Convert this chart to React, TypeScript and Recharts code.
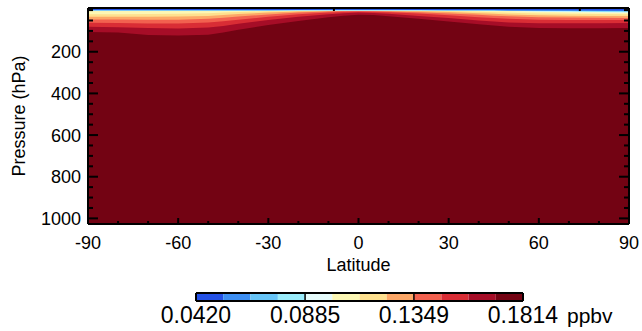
import { ComposedChart, Area, Bar, XAxis, YAxis, CartesianGrid } from "recharts";

const FONT = '"Liberation Sans", Arial, Helvetica, sans-serif';

const latitudes = [-90, -80, -70, -60, -50, -45, -40, -30, -20, -10, -5, 0, 5, 10, 20, 30, 40, 45, 50, 60, 70, 80, 90];

// pressure (hPa) where the field crosses each colour level
const p0536 = [0, 0, 0, 0, 0, 0, 0, 0, -1, -2, -2, -2, -2, -2, -1, 0, 0, 0, 0.5, 1, 1, 1.5, 2];
const p0652 = [1, 1, 1, 1, 1, 1, 1, 1, 0, -1, -1, -1, -1, -1, 0, 1, 1, 1, 1.5, 2.5, 3, 3.5, 4];
const p0769 = [2, 2, 2, 2, 2, 2, 2, 2, 1, 0.5, 0.5, 0.5, 0.5, 0.5, 1, 2, 2, 2, 2.5, 4, 5, 6, 7];
const p0885 = [2.5, 2.5, 2.5, 2.5, 2.5, 2.5, 2.5, 2.5, 2, 1.5, 1.5, 1.5, 1.5, 1.5, 2, 2.5, 2.5, 3, 3.5, 6, 7, 9, 10];
const p1001 = [4, 4, 3.5, 3.5, 3, 3, 3, 3, 2.5, 2.5, 2.5, 2.5, 2.5, 2.5, 2.5, 3, 3, 4, 5, 8, 10, 12, 13];
const p1117 = [20, 20, 19, 18, 15, 12, 9, 6, 4, 3, 3, 3, 3, 3, 4, 5, 8, 11, 13, 16, 18, 19, 20];
const p1233 = [32, 32, 32, 31, 28, 24, 19, 12, 7, 4, 3.5, 3.5, 3.5, 4, 6, 9, 15, 18, 21, 25, 27, 28, 29];
const p1349 = [45, 45, 46, 46, 42, 37, 31, 21, 12, 7, 5, 5, 5, 7, 10, 16, 23, 27, 30, 34, 36, 37, 38];
const p1466 = [61, 62, 64, 64, 60, 54, 46, 32, 20, 12, 9, 8, 9, 11, 17, 25, 34, 38, 42, 46, 48, 48, 48];
const p1582 = [80, 82, 86, 88, 84, 76, 66, 48, 32, 20, 15, 12, 14, 18, 28, 38, 50, 55, 60, 63, 63, 63, 62];
const p1698 = [105, 108, 120, 122, 118, 108, 95, 72, 52, 35, 27, 22, 24, 30, 42, 55, 68, 74, 80, 86, 87, 87, 86];

const crossings = [p0536, p0652, p0769, p0885, p1001, p1117, p1233, p1349, p1466, p1582, p1698];

const levels = [0.042, 0.0536, 0.0652, 0.0769, 0.0885, 0.1001, 0.1117, 0.1233, 0.1349, 0.1466, 0.1582, 0.1698, 0.1814];
const levelTicks = [0.042, 0.0885, 0.1349, 0.1814];
const levelLabels = ["0.0420", "0.0885", "0.1349", "0.1814"];

const bandColors = [
  "#2451e6", "#3c8ef2", "#66c4f7", "#9aecfb", "#e6fbfb", "#fcf7b4",
  "#fee08e", "#fca767", "#f2614f", "#d92d35", "#a60d27", "#730313",
];

const latTicks = [-90, -80, -70, -60, -50, -40, -30, -20, -10, 0, 10, 20, 30, 40, 50, 60, 70, 80, 90];
const latLabels = [-90, -60, -30, 0, 30, 60, 90];
const pressureTicks = [0, 50, 100, 150, 200, 250, 300, 350, 400, 450, 500, 550, 600, 650, 700, 750, 800, 850, 900, 950, 1000];
const pressureLabels = [200, 400, 600, 800, 1000];

const Y_MIN = -10;
const Y_MAX = 1027;

const rows = latitudes.map((lat, i) => {
  const r: Record<string, number> = { lat };
  crossings.forEach((arr, k) => (r[`c${k}`] = arr[i]));
  return r;
});

const barRow = [
  levels.slice(1).reduce(
    (o: Record<string, any>, v, i) => ({ ...o, [`b${i}`]: v - levels[i] }),
    { name: "ppbv", offset: levels[0] }
  ),
];

const frame = { stroke: "#000", strokeWidth: 2 };

function BottomTick(props: any) {
  const { x, y, payload } = props;
  const major = latLabels.includes(payload.value);
  return (
    <g>
      <line x1={x} x2={x} y1={y} y2={y - (major ? 6 : 3)} stroke="#000" strokeWidth={2} />
      {major && (
        <text x={x} y={y + 25} textAnchor="middle" fontSize={18} fontFamily={FONT} fill="#000">
          {payload.value}
        </text>
      )}
    </g>
  );
}

function TopTick(props: any) {
  const { x, y, payload } = props;
  const major = latLabels.includes(payload.value);
  return <line x1={x} x2={x} y1={y} y2={y + (major ? 6 : 3)} stroke="#000" strokeWidth={2} />;
}

function LeftTick(props: any) {
  const { x, y, payload } = props;
  const major = pressureLabels.includes(payload.value);
  return (
    <g>
      <line x1={x} x2={x + (major ? 10 : 5)} y1={y} y2={y} stroke="#000" strokeWidth={2} />
      {major && (
        <text x={x - 7} y={y} dy="0.36em" textAnchor="end" fontSize={18} fontFamily={FONT} fill="#000">
          {payload.value}
        </text>
      )}
    </g>
  );
}

function RightTick(props: any) {
  const { x, y, payload } = props;
  const major = pressureLabels.includes(payload.value);
  return <line x1={x} x2={x - (major ? 10 : 5)} y1={y} y2={y} stroke="#000" strokeWidth={2} />;
}

function ColorbarTick(props: any) {
  const { x, y, index } = props;
  const inner = index > 0 && index < levelTicks.length - 1;
  return (
    <g>
      {inner && <line x1={x} x2={x} y1={y} y2={y - 8} stroke="#000" strokeWidth={1.5} />}
      <text x={x} y={y + 22} textAnchor="middle" fontSize={23} fontFamily={FONT} fill="#000">
        {levelLabels[index]}
      </text>
    </g>
  );
}

export default function App() {
  return (
    <div style={{ position: "absolute", left: 0, top: 0, width: 642, height: 331, background: "#fff" }}>
      <div style={{ position: "absolute", left: 0, top: 0 }}>
        <ComposedChart width={642} height={280} data={rows} margin={{ top: 7, right: 12, bottom: 55, left: 87 }}>
          <CartesianGrid horizontal={false} vertical={false} fill={bandColors[11]} />
          {crossings
            .map((_, k) => k)
            .reverse()
            .map((k) => (
              <Area
                key={k}
                type="linear"
                dataKey={`c${k}`}
                baseValue={Y_MIN}
                fill={bandColors[k]}
                fillOpacity={1}
                stroke="none"
                dot={false}
                activeDot={false}
                isAnimationActive={false}
              />
            ))}
          <XAxis
            dataKey="lat"
            type="number"
            domain={[-90, 90]}
            allowDataOverflow
            ticks={latTicks}
            interval={0}
            height={1}
            tickSize={0}
            tickMargin={0}
            axisLine={frame}
            tick={(p: any) => <BottomTick {...p} />}
            label={(p: any) => {
              const vb = p.viewBox;
              return (
                <text x={vb.x + vb.width / 2} y={vb.y + 47} textAnchor="middle" fontSize={18} fontFamily={FONT} fill="#000">
                  Latitude
                </text>
              );
            }}
          />
          <XAxis
            xAxisId="top"
            orientation="top"
            type="number"
            domain={[-90, 90]}
            allowDataOverflow
            ticks={latTicks}
            interval={0}
            height={1}
            tickSize={0}
            tickMargin={0}
            axisLine={frame}
            tick={(p: any) => <TopTick {...p} />}
          />
          <YAxis
            type="number"
            domain={[Y_MIN, Y_MAX]}
            reversed
            allowDataOverflow
            ticks={pressureTicks}
            interval={0}
            width={1}
            tickSize={0}
            tickMargin={0}
            axisLine={frame}
            tick={(p: any) => <LeftTick {...p} />}
            label={(p: any) => {
              const vb = p.viewBox;
              const cy = vb.y + vb.height / 2;
              return (
                <text x={25} y={cy} transform={`rotate(-90 25 ${cy})`} textAnchor="middle" fontSize={18} fontFamily={FONT} fill="#000">
                  Pressure (hPa)
                </text>
              );
            }}
          />
          <YAxis
            yAxisId="right"
            orientation="right"
            type="number"
            domain={[Y_MIN, Y_MAX]}
            reversed
            allowDataOverflow
            ticks={pressureTicks}
            interval={0}
            width={1}
            tickSize={0}
            tickMargin={0}
            axisLine={frame}
            tick={(p: any) => <RightTick {...p} />}
          />
        </ComposedChart>
      </div>
      <div style={{ position: "absolute", left: 0, top: 280 }}>
        <ComposedChart
          layout="vertical"
          width={642}
          height={51}
          data={barRow}
          margin={{ top: 12, right: 118, bottom: 29, left: 195 }}
          barCategoryGap={0}
        >
          <Bar dataKey="offset" stackId="cb" fill="none" isAnimationActive={false} />
          {bandColors.map((c, i) => (
            <Bar key={i} dataKey={`b${i}`} stackId="cb" fill={c} isAnimationActive={false} />
          ))}
          <XAxis
            type="number"
            domain={[levels[0], levels[12]]}
            allowDataOverflow
            ticks={levelTicks}
            interval={0}
            height={1}
            tickSize={0}
            tickMargin={0}
            axisLine={frame}
            tick={(p: any) => <ColorbarTick {...p} />}
            label={(p: any) => {
              const vb = p.viewBox;
              return (
                <text x={vb.x + vb.width + 44} y={vb.y + 22} textAnchor="start" fontSize={21} fontFamily={FONT} fill="#000">
                  ppbv
                </text>
              );
            }}
          />
          <XAxis
            xAxisId="top"
            orientation="top"
            type="number"
            domain={[levels[0], levels[12]]}
            allowDataOverflow
            height={1}
            tick={false}
            tickLine={false}
            axisLine={frame}
          />
          <YAxis type="category" dataKey="name" width={1} tick={false} tickLine={false} axisLine={frame} />
          <YAxis yAxisId="r" orientation="right" type="category" dataKey="name" width={1} tick={false} tickLine={false} axisLine={frame} />
        </ComposedChart>
      </div>
    </div>
  );
}
